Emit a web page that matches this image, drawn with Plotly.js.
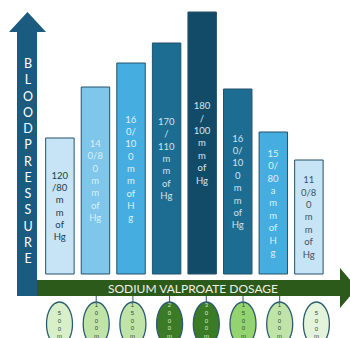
<!DOCTYPE html>
<html><head><meta charset="utf-8">
<script src="https://cdn.plot.ly/plotly-3.0.1.min.js"></script>
<style>html,body{margin:0;padding:0;background:#fff;overflow:hidden}#chart{width:350px;height:338px}</style>
</head><body><div id="chart"></div>
<script>
// ---- data ----
const doses = ["500 mg","1000 mg","1500 mg","2000 mg","3000 mg","1500 mg","1000 mg","500 mg"];
const barLabels = [
  "120<br>/80<br>m<br>m<br>of<br>Hg",
  "14<br>0/8<br>0<br>m<br>m<br>of<br>Hg",
  "16<br>0/<br>10<br>0<br>m<br>m<br>of<br>H<br>g",
  "170<br>/<br>110<br>m<br>m<br>of<br>Hg",
  "180<br>/<br>100<br>m<br>m<br>of<br>Hg",
  "16<br>0/<br>10<br>0<br>m<br>m<br>of<br>Hg",
  "15<br>0/<br>80<br>a<br>m<br>m<br>of<br>H<br>g",
  "11<br>0/8<br>0<br>m<br>m<br>of<br>Hg"
];
const barHeights = [136, 187, 211, 231, 262, 185, 142, 114];
const yAxisTitle = "BLOODPRESSURE";
const xAxisTitle = "SODIUM VALPROATE DOSAGE";

// ---- styles ----
const barColors = ['#c6e4f5','#7fc6ea','#45ade0','#1d6d93','#124b67','#1d6d93','#45ade0','#c6e4f5'];
const textColors = ['#1e3a4e','#d9f0fb','#dff2fb','#cfe2ec','#d4e4ee','#cfe2ec','#dff2fb','#3a5566'];
const ovalColors = ['#d9efca','#c0e4a8','#c0e4a8','#3b7b26','#3b7b26','#94d470','#c0e4a8','#e3f4da'];
const ovalTextColors = ['#2f4a3a','#2f4a3a','#2f4a3a','#d6ecd0','#d6ecd0','#2f4a3a','#2f4a3a','#2f4a3a'];
const FONT = 'Lato, "Liberation Sans", sans-serif';

const W = 350, H = 338;
const xp = p => p / W, yp = p => 1 - p / H;
const path = pts => 'M ' + pts.map(([a,b]) => xp(a) + ',' + yp(b)).join(' L ') + ' Z';

const idx = doses.map((_, i) => i);

const trace = {
  type: 'bar', x: idx, y: barHeights, text: barLabels,
  textposition: 'inside', insidetextanchor: 'middle', textangle: 0, constraintext: 'none',
  textfont: {family: FONT, size: 9.5, color: textColors},
  marker: {color: barColors, line: {color: '#24506a', width: 1}},
  width: 0.8, hoverinfo: 'none', cliponaxis: false
};

const shapes = [];
const annotations = [];
// vertical (blood pressure) arrow
shapes.push({type:'path', xref:'paper', yref:'paper', path: path([[17,296],[17,32],[9,32],[27.5,12],[46,32],[37,32],[37,296]]),
  fillcolor:'#1b5b80', line:{width:0}});
// horizontal (dosage) arrow
shapes.push({type:'path', xref:'paper', yref:'paper', path: path([[37,280],[340,280],[340,268],[357,288],[340,308],[340,296],[37,296]]),
  fillcolor:'#2c5a1a', line:{width:0}});

annotations.push({xref:'paper', yref:'paper', x: xp(27.5), y: yp(161), text: yAxisTitle.split('').join('<br>'),
  showarrow:false, font:{family:FONT, size:12.5, color:'#ffffff'}, xanchor:'center', yanchor:'middle'});
annotations.push({xref:'paper', yref:'paper', x: xp(192.5), y: yp(288.5), text: xAxisTitle, borderpad:0,
  showarrow:false, font:{family:FONT, size:12, color:'#eef3e8'}, xanchor:'center', yanchor:'middle'});

// dosage ovals
doses.forEach((d, i) => {
  const cx = 59.5 + 36.7 * i;
  if (i > 0 && i < doses.length - 1) {
    shapes.push({type:'line', xref:'paper', yref:'paper', x0: xp(cx), x1: xp(cx), y0: yp(296), y1: yp(302),
      line:{color:'#2b5b6e', width:1}});
  }
  shapes.push({type:'circle', xref:'paper', yref:'paper', x0: xp(cx-13), x1: xp(cx+13), y0: yp(346), y1: yp(302),
    fillcolor: ovalColors[i], line:{color:'#2b5b6e', width:1.3}});
  const chars = d.replace(' mg','m').split('');
  annotations.push({xref:'paper', yref:'paper', x: xp(cx), y: yp(339.5), yanchor:'bottom', xanchor:'center', borderpad:0,
    text: chars.join('<br>'), showarrow:false, font:{family:'"Liberation Sans", sans-serif', size:6, color: ovalTextColors[i]}});
});

const layout = {
  width: W, height: H, margin:{l:0,r:0,t:0,b:0},
  paper_bgcolor:'#ffffff', plot_bgcolor:'#ffffff', showlegend:false,
  xaxis:{range:[-1.684, 8.156], visible:false, fixedrange:true},
  yaxis:{range:[-64, 274], visible:false, fixedrange:true},
  shapes, annotations
};
Plotly.newPlot('chart', [trace], layout, {displayModeBar:false, staticPlot:true});
</script></body></html>
